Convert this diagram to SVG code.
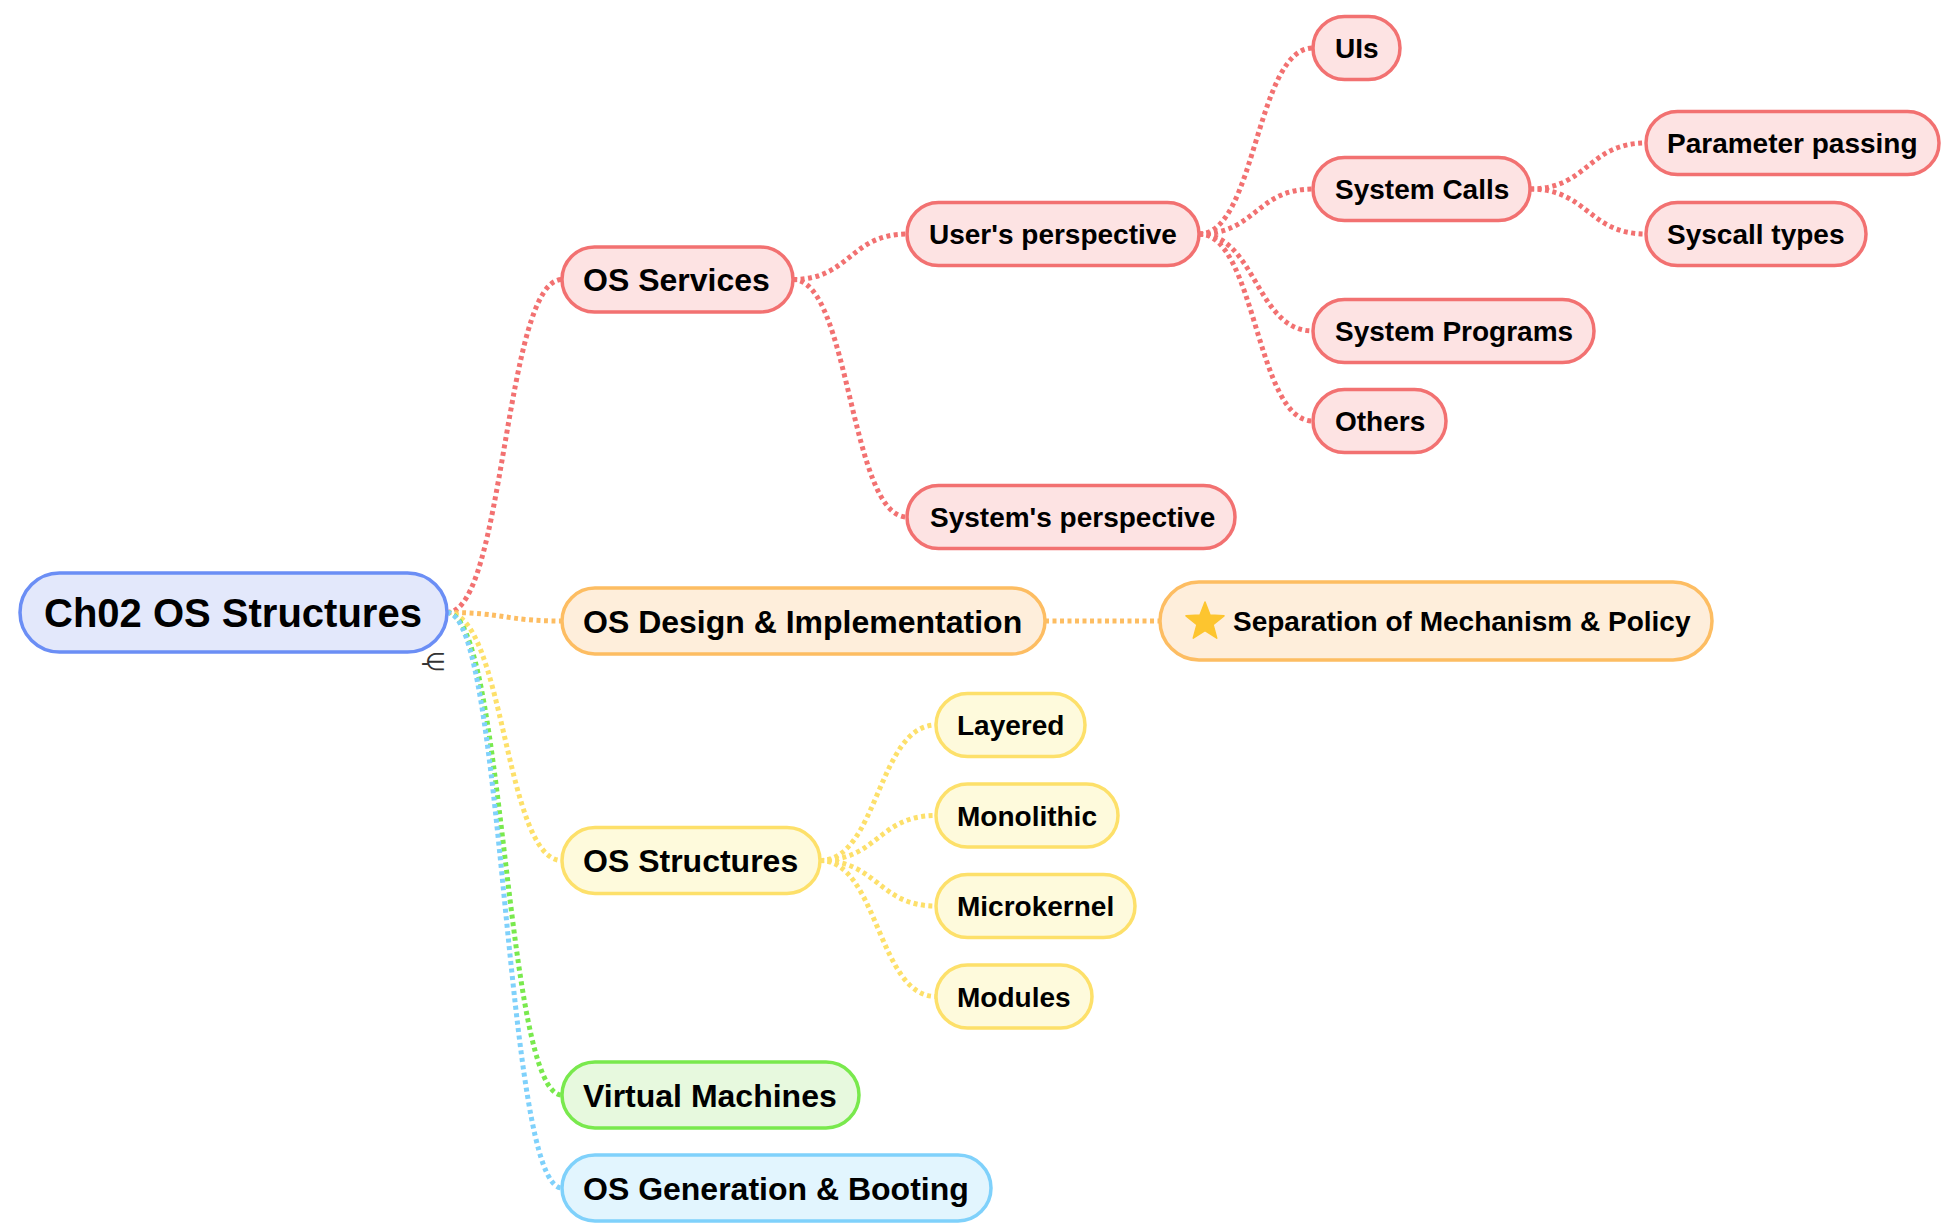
<svg xmlns="http://www.w3.org/2000/svg" width="1954" height="1232" viewBox="0 0 1954 1232">
<style>
  text { font-family: "Liberation Sans", Arial, sans-serif; font-weight: bold; fill: #000; }
  .t0 { font-size: 40px; }
  .t1 { font-size: 32px; }
  .t2 { font-size: 28px; }
  .n rect { stroke-width: 3.5; }
  .root rect { fill: #e3e8fb; stroke: #6b8ef5; }
  .red rect { fill: #fde3e3; stroke: #f27171; }
  .ora rect { fill: #feeedb; stroke: #fdbd62; }
  .yel rect { fill: #fefadc; stroke: #fde06a; }
  .grn rect { fill: #e7f9de; stroke: #79e94d; }
  .blu rect { fill: #e2f5fe; stroke: #7fd1fb; }
  #connectors path { fill: none; stroke-width: 5; stroke-dasharray: 4 3.5; }
  .cr { stroke: #f27171; }
  .co { stroke: #fdbd62; }
  .cy { stroke: #fde06a; }
  .cg { stroke: #79e94d; }
  .cb { stroke: #7fd1fb; }
</style>
<rect width="1954" height="1232" fill="#ffffff"/>
<g id="connectors">
  <path class="cr" d="M447,612.5 C504.5,612.5 504.5,279.5 562,279.5"/>
  <path class="co" d="M447,612.5 C504.5,612.5 504.5,621 562,621"/>
  <path class="cy" d="M447,612.5 C504.5,612.5 504.5,860.5 562,860.5"/>
  <path class="cg" d="M447,612.5 C504.5,612.5 504.5,1095 562,1095"/>
  <path class="cb" d="M447,612.5 C504.5,612.5 504.5,1188 562,1188"/>
  <path class="cr" d="M793,279.5 C850,279.5 850,234 907,234"/>
  <path class="cr" d="M793,279.5 C850,279.5 850,517 907,517"/>
  <path class="cr" d="M1199,234 C1256,234 1256,48 1313,48"/>
  <path class="cr" d="M1199,234 C1256,234 1256,189 1313,189"/>
  <path class="cr" d="M1199,234 C1256,234 1256,331 1313,331"/>
  <path class="cr" d="M1199,234 C1256,234 1256,421 1313,421"/>
  <path class="cr" d="M1530,189 C1588,189 1588,143 1646,143"/>
  <path class="cr" d="M1530,189 C1588,189 1588,234 1646,234"/>
  <path class="co" d="M1045,621 L1160,621"/>
  <path class="cy" d="M820,860.5 C878,860.5 878,725 936,725"/>
  <path class="cy" d="M820,860.5 C878,860.5 878,815.5 936,815.5"/>
  <path class="cy" d="M820,860.5 C878,860.5 878,906 936,906"/>
  <path class="cy" d="M820,860.5 C878,860.5 878,996.5 936,996.5"/>
</g>
<g id="root" class="n root">
  <rect x="20" y="573" width="427" height="79" rx="39.5"/>
  <text class="t0" x="44" y="627">Ch02 OS Structures</text>
  <text x="421" y="670" style="font-size:24px;font-weight:normal;fill:#333;letter-spacing:-4px">-∈</text>
</g>
<g id="os-services" class="n red">
  <rect x="562" y="247" width="231" height="65" rx="32.5"/>
  <text class="t1" x="583" y="291">OS Services</text>
</g>
<g id="users-perspective" class="n red">
  <rect x="907" y="202.5" width="292" height="63" rx="31.5"/>
  <text class="t2" x="929" y="244">User's perspective</text>
</g>
<g id="systems-perspective" class="n red">
  <rect x="907" y="485.5" width="328" height="63" rx="31.5"/>
  <text class="t2" x="930" y="527">System's perspective</text>
</g>
<g id="uis" class="n red">
  <rect x="1313" y="16.5" width="87" height="63" rx="31.5"/>
  <text class="t2" x="1335" y="58">UIs</text>
</g>
<g id="system-calls" class="n red">
  <rect x="1313" y="157.5" width="217" height="63" rx="31.5"/>
  <text class="t2" x="1335" y="199">System Calls</text>
</g>
<g id="system-programs" class="n red">
  <rect x="1313" y="299.5" width="281" height="63" rx="31.5"/>
  <text class="t2" x="1335" y="341">System Programs</text>
</g>
<g id="others" class="n red">
  <rect x="1313" y="389.5" width="133" height="63" rx="31.5"/>
  <text class="t2" x="1335" y="431">Others</text>
</g>
<g id="parameter-passing" class="n red">
  <rect x="1646" y="111.5" width="293" height="63" rx="31.5"/>
  <text class="t2" x="1667" y="153">Parameter passing</text>
</g>
<g id="syscall-types" class="n red">
  <rect x="1646" y="202.5" width="220" height="63" rx="31.5"/>
  <text class="t2" x="1667" y="244">Syscall types</text>
</g>
<g id="os-design" class="n ora">
  <rect x="562" y="588" width="483" height="66" rx="33"/>
  <text class="t1" x="583" y="632.5">OS Design &amp; Implementation</text>
</g>
<g id="separation" class="n ora">
  <rect x="1160" y="582" width="552" height="78" rx="39"/>
  <polygon points="0,-20 5,-6.88 19.02,-6.18 8.08,2.63 11.76,16.18 0,8.5 -11.76,16.18 -8.08,2.63 -19.02,-6.18 -5,-6.88" transform="translate(1205,622)" fill="#fdc52f" stroke="#fdc52f" stroke-width="1.5" stroke-linejoin="round"/>
  <text class="t2" x="1233" y="631">Separation of Mechanism &amp; Policy</text>
</g>
<g id="os-structures" class="n yel">
  <rect x="562" y="827.5" width="258" height="66" rx="33"/>
  <text class="t1" x="583" y="872">OS Structures</text>
</g>
<g id="layered" class="n yel">
  <rect x="936" y="693.5" width="149" height="63" rx="31.5"/>
  <text class="t2" x="957" y="735">Layered</text>
</g>
<g id="monolithic" class="n yel">
  <rect x="936" y="784" width="182" height="63" rx="31.5"/>
  <text class="t2" x="957" y="825.5">Monolithic</text>
</g>
<g id="microkernel" class="n yel">
  <rect x="936" y="874.5" width="199" height="63" rx="31.5"/>
  <text class="t2" x="957" y="916">Microkernel</text>
</g>
<g id="modules" class="n yel">
  <rect x="936" y="965" width="156" height="63" rx="31.5"/>
  <text class="t2" x="957" y="1006.5">Modules</text>
</g>
<g id="virtual-machines" class="n grn">
  <rect x="562" y="1062" width="297" height="66" rx="33"/>
  <text class="t1" x="583" y="1106.5">Virtual Machines</text>
</g>
<g id="os-generation" class="n blu">
  <rect x="562" y="1155" width="429" height="66" rx="33"/>
  <text class="t1" x="583" y="1199.5">OS Generation &amp; Booting</text>
</g>
</svg>
